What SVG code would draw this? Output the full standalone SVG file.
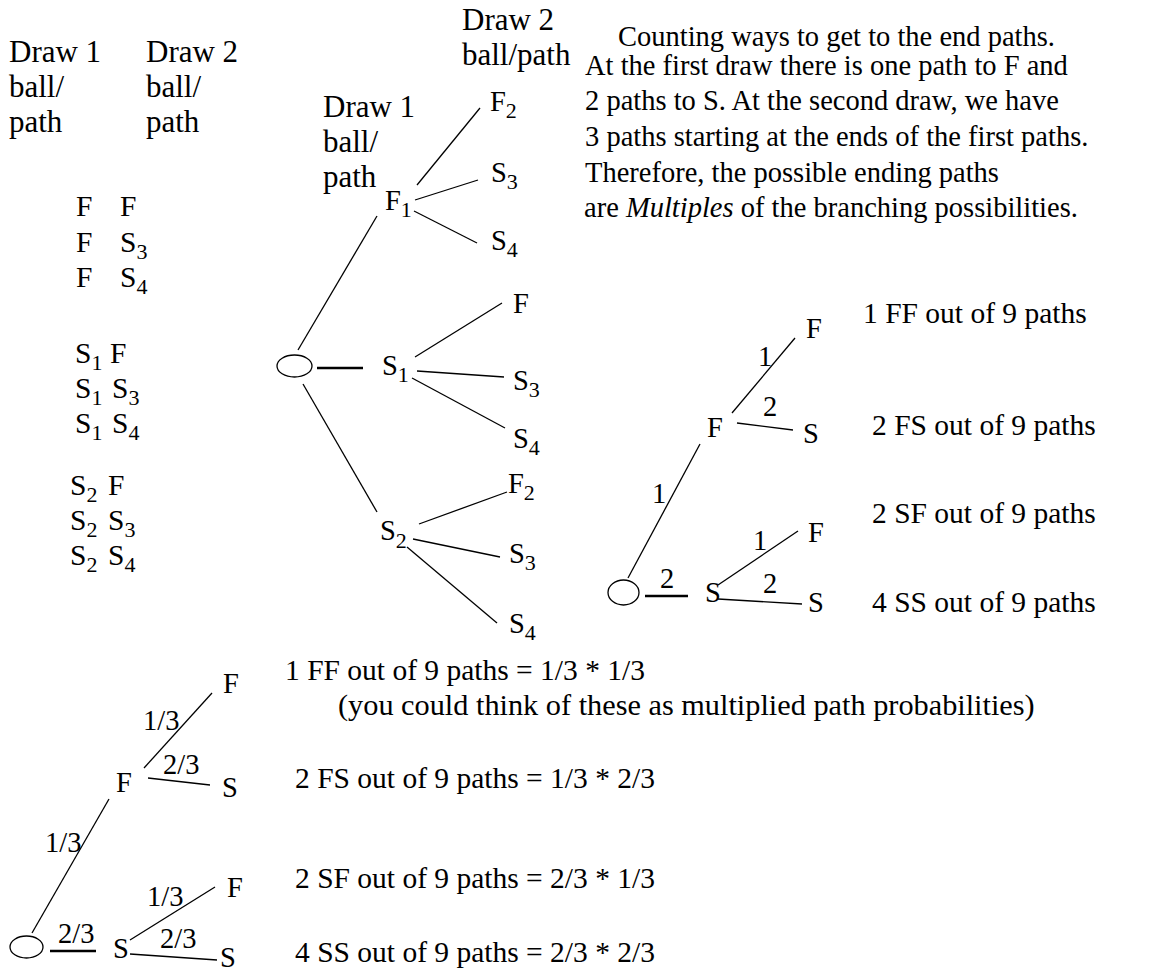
<svg xmlns="http://www.w3.org/2000/svg" width="1154" height="977" viewBox="0 0 1154 977">
<style>
text{font-family:"Liberation Serif","Times New Roman",serif;font-size:28.5px;fill:#000}
.hdr{font-size:31px}
.big{font-size:29.5px}
.list{font-size:29.5px}
.paren{font-size:30.3px}
.sub{font-size:22px}
.e{fill:none;stroke:#000;stroke-width:1.3}
.thick{stroke:#000;stroke-width:2.6}
line{stroke:#000;stroke-width:1.3}
</style>
<rect width="1154" height="977" fill="#fff"/>

<g id="left-headers">
<text class="hdr" x="9" y="62">Draw 1</text>
<text class="hdr" x="9" y="97">ball/</text>
<text class="hdr" x="9" y="132">path</text>
<text class="hdr" x="146" y="62">Draw 2</text>
<text class="hdr" x="146" y="97">ball/</text>
<text class="hdr" x="146" y="132">path</text>
</g>

<g id="left-list">
<text class="list" x="76" y="216">F</text><text class="list" x="120" y="216">F</text>
<text class="list" x="76" y="252">F</text><text class="list" x="120" y="252">S<tspan class="sub" dy="7">3</tspan></text>
<text class="list" x="76" y="287">F</text><text class="list" x="120" y="287">S<tspan class="sub" dy="7">4</tspan></text>
<text class="list" x="75" y="363">S<tspan class="sub" dy="7">1</tspan></text><text class="list" x="110" y="363">F</text>
<text class="list" x="75" y="398">S<tspan class="sub" dy="7">1</tspan></text><text class="list" x="112" y="398">S<tspan class="sub" dy="7">3</tspan></text>
<text class="list" x="75" y="433">S<tspan class="sub" dy="7">1</tspan></text><text class="list" x="112" y="433">S<tspan class="sub" dy="7">4</tspan></text>
<text class="list" x="70" y="495">S<tspan class="sub" dy="7">2</tspan></text><text class="list" x="108" y="495">F</text>
<text class="list" x="70" y="530">S<tspan class="sub" dy="7">2</tspan></text><text class="list" x="108" y="530">S<tspan class="sub" dy="7">3</tspan></text>
<text class="list" x="70" y="565">S<tspan class="sub" dy="7">2</tspan></text><text class="list" x="108" y="565">S<tspan class="sub" dy="7">4</tspan></text>
</g>

<g id="mid-headers">
<text class="hdr" x="462" y="30">Draw 2</text>
<text class="hdr" x="462" y="65">ball/path</text>
<text class="hdr" x="323" y="117">Draw 1</text>
<text class="hdr" x="323" y="152">ball/</text>
<text class="hdr" x="323" y="187">path</text>
</g>

<g id="mid-connectors">
<line x1="377" y1="216" x2="298" y2="350"/>
<line class="thick" x1="317" y1="368" x2="363" y2="368"/>
<line x1="303" y1="384" x2="377" y2="512"/>
<line x1="417" y1="185" x2="480" y2="108"/>
<line x1="415" y1="200" x2="478" y2="180"/>
<line x1="414" y1="211" x2="477" y2="243"/>
<line x1="415" y1="357" x2="502" y2="303"/>
<line x1="417" y1="371" x2="504" y2="377"/>
<line x1="412" y1="378" x2="505" y2="428"/>
<line x1="419" y1="524" x2="507" y2="492"/>
<line x1="413" y1="539" x2="500" y2="557"/>
<line x1="407" y1="547" x2="497" y2="623"/>
</g>

<g id="mid-root"><ellipse class="e" cx="294.5" cy="366" rx="17.5" ry="11"/></g>
<g id="mid-F1"><text x="385" y="210">F<tspan class="sub" dy="7">1</tspan></text></g>
<g id="mid-S1"><text x="382" y="375">S<tspan class="sub" dy="7">1</tspan></text></g>
<g id="mid-S2"><text x="380" y="540">S<tspan class="sub" dy="8">2</tspan></text></g>
<g id="mid-F1-F2"><text x="490" y="111">F<tspan class="sub" dy="7">2</tspan></text></g>
<g id="mid-F1-S3"><text x="491" y="182">S<tspan class="sub" dy="7">3</tspan></text></g>
<g id="mid-F1-S4"><text x="491" y="250">S<tspan class="sub" dy="7">4</tspan></text></g>
<g id="mid-S1-F"><text x="513" y="313">F</text></g>
<g id="mid-S1-S3"><text x="513" y="390">S<tspan class="sub" dy="7">3</tspan></text></g>
<g id="mid-S1-S4"><text x="513" y="448">S<tspan class="sub" dy="7">4</tspan></text></g>
<g id="mid-S2-F2"><text x="508" y="493">F<tspan class="sub" dy="7">2</tspan></text></g>
<g id="mid-S2-S3"><text x="509" y="563">S<tspan class="sub" dy="7">3</tspan></text></g>
<g id="mid-S2-S4"><text x="509" y="633">S<tspan class="sub" dy="7">4</tspan></text></g>

<g id="explanation">
<text x="618" y="46">Counting ways to get to the end paths.</text>
<text x="585" y="75">At the first draw there is one path to F and</text>
<text x="585" y="110">2 paths to S. At the second draw, we have</text>
<text x="585" y="146">3 paths starting at the ends of the first paths.</text>
<text x="585" y="182">Therefore, the possible ending paths</text>
<text x="584" y="217">are <tspan font-style="italic">Multiples</tspan> of the branching possibilities.</text>
</g>

<g id="right-connectors">
<line x1="628" y1="578" x2="700" y2="444"/>
<line class="thick" x1="645" y1="596" x2="688" y2="596"/>
<line x1="732" y1="413" x2="795" y2="338"/>
<line x1="737" y1="423" x2="793" y2="430"/>
<line x1="718" y1="585" x2="798" y2="531"/>
<line x1="718" y1="599" x2="802" y2="604"/>
<text x="652" y="503">1</text>
<text x="660" y="588">2</text>
<text x="758" y="366">1</text>
<text x="763" y="416">2</text>
<text x="753" y="550">1</text>
<text x="763" y="593">2</text>
</g>
<g id="right-root"><ellipse class="e" cx="623.5" cy="592.5" rx="15.5" ry="12.5"/></g>
<g id="right-F"><text x="707" y="437">F</text></g>
<g id="right-S"><text x="705" y="602">S</text></g>
<g id="right-FF"><text x="806" y="338">F</text></g>
<g id="right-FS"><text x="803" y="443">S</text></g>
<g id="right-SF"><text x="808" y="542">F</text></g>
<g id="right-SS"><text x="808" y="612">S</text></g>
<g id="right-counts">
<text class="big" x="863" y="323">1 FF out of 9 paths</text>
<text class="big" x="872" y="435">2 FS out of 9 paths</text>
<text class="big" x="872" y="523">2 SF out of 9 paths</text>
<text class="big" x="872" y="612">4 SS out of 9 paths</text>
</g>

<g id="bottom-connectors">
<line x1="32" y1="933" x2="109" y2="799"/>
<line class="thick" x1="50" y1="951" x2="96" y2="951"/>
<line x1="144" y1="768" x2="212" y2="693"/>
<line x1="148" y1="778" x2="210" y2="785"/>
<line x1="130" y1="940" x2="215" y2="887"/>
<line x1="130" y1="954" x2="217" y2="960"/>
<text x="45" y="852">1/3</text>
<text x="58" y="943">2/3</text>
<text x="143" y="730">1/3</text>
<text x="163" y="774">2/3</text>
<text x="147" y="906">1/3</text>
<text x="160" y="948">2/3</text>
</g>
<g id="bottom-root"><ellipse class="e" cx="26.5" cy="947" rx="16.5" ry="11"/></g>
<g id="bottom-F"><text x="116" y="792">F</text></g>
<g id="bottom-S"><text x="113" y="958">S</text></g>
<g id="bottom-FF"><text x="223" y="693">F</text></g>
<g id="bottom-FS"><text x="222" y="797">S</text></g>
<g id="bottom-SF"><text x="227" y="897">F</text></g>
<g id="bottom-SS"><text x="220" y="967">S</text></g>
<g id="bottom-formulas">
<text class="big" x="285" y="680">1 FF out of 9 paths = 1/3 * 1/3</text>
<text class="paren" x="338" y="715">(you could think of these as multiplied path probabilities)</text>
<text class="big" x="295" y="788">2 FS out of 9 paths = 1/3 * 2/3</text>
<text class="big" x="295" y="888">2 SF out of 9 paths = 2/3 * 1/3</text>
<text class="big" x="295" y="962">4 SS out of 9 paths = 2/3 * 2/3</text>
</g>
</svg>
